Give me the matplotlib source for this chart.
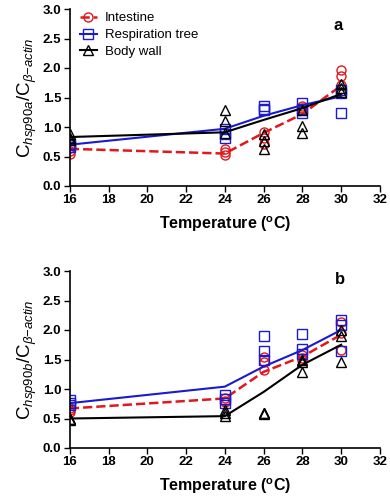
import matplotlib
matplotlib.use("Agg")
import matplotlib.pyplot as plt
import numpy as np

plt.rcParams['font.family'] = ['Liberation Sans', 'DejaVu Sans']
plt.rcParams['mathtext.fontset'] = 'custom'
plt.rcParams['mathtext.rm'] = 'Liberation Sans'
plt.rcParams['mathtext.it'] = 'Liberation Sans:italic'
plt.rcParams['mathtext.bf'] = 'Liberation Sans:bold'

temps = [16, 24, 26, 28, 30]
tissues = ["Intestine", "Respiration tree", "Body wall"]

# panel a: hsp90a means
a_intestine = [0.63, 0.55, 0.90, 1.22, 1.70]
a_resp = [0.70, 0.97, 1.19, 1.37, 1.52]
a_body = [0.83, 0.91, 1.12, 1.32, 1.56]

# panel a: replicates (3 per temperature)
a_intestine_pts = [[0.60, 0.65, 0.55], [0.63, 0.58, 0.53], [0.91, 0.82, 0.72],
                   [1.28, 1.35, 1.32], [1.97, 1.87, 1.72]]
a_resp_pts = [[0.70, 0.66, 0.72], [0.97, 0.82, 0.88], [1.35, 1.29, 1.30],
              [1.40, 1.23, 1.30], [1.62, 1.57, 1.23]]
a_body_pts = [[0.88, 0.82, 0.78], [1.28, 1.11, 0.90], [0.88, 0.77, 0.63],
              [1.02, 0.89, 1.28], [1.73, 1.66, 1.60]]

# panel b: hsp90b means
b_intestine = [0.67, 0.84, 1.29, 1.55, 1.92]
b_resp = [0.76, 1.04, 1.38, 1.66, 2.00]
b_body = [0.50, 0.54, 0.95, 1.41, 1.75]

b_intestine_pts = [[0.68, 0.61, 0.65], [0.84, 0.78, 0.80], [1.55, 1.46, 1.32],
                   [1.58, 1.52, 1.50], [2.14, 1.95, 1.66]]
b_resp_pts = [[0.81, 0.73, 0.76], [0.90, 0.76, 0.83], [1.90, 1.65, 1.49],
              [1.93, 1.67, 1.60], [2.17, 2.08, 1.65]]
b_body_pts = [[0.47, 0.50, 0.50], [0.64, 0.55, 0.60], [0.59, 0.60, 0.58],
              [1.50, 1.29, 1.45], [2.00, 1.89, 1.46]]

STYLES = {
    "Intestine": dict(color="#e0181c", marker="o", ls="--", lw=1.8),
    "Respiration tree": dict(color="#1a1ad0", marker="s", ls="-", lw=1.5),
    "Body wall": dict(color="black", marker="^", ls="-", lw=1.5),
}


def draw_panel(ax, means, pts, ylabel, tag, tag_pos, legend=False):
    for name, m, p in zip(tissues, means, pts):
        st = STYLES[name]
        xs = np.repeat(temps, 3)
        ys = np.concatenate(p)
        ax.plot(xs, ys, ls="none", marker=st["marker"], mfc="none",
                mec=st["color"], ms=6.5, mew=1.0)
        ax.plot(temps, m, color=st["color"], ls=st["ls"], lw=st["lw"])
        # legend proxy
        ax.plot([], [], color=st["color"], ls=st["ls"], lw=st["lw"],
                marker=st["marker"], mfc="none", mec=st["color"], ms=6.5,
                label=name)
    ax.set_xlim(16, 32)
    ax.set_ylim(0, 3.0)
    ax.set_xticks(np.arange(16, 33, 2))
    ax.set_yticks(np.arange(0, 3.01, 0.5))
    ax.set_yticklabels([f"{v:.1f}" for v in np.arange(0, 3.01, 0.5)])
    for lab in ax.get_xticklabels() + ax.get_yticklabels():
        lab.set_fontweight("bold")
        lab.set_fontsize(9.5)
    ax.spines["top"].set_visible(False)
    ax.spines["right"].set_visible(False)
    ax.spines["left"].set_linewidth(1.2)
    ax.spines["bottom"].set_linewidth(1.2)
    ax.tick_params(direction="out", length=4, width=1.0, pad=2)
    ax.set_xlabel(r"Temperature ($\mathbf{^o}$C)", fontsize=11.5,
                  fontweight="bold", labelpad=6)
    ax.set_ylabel(ylabel, fontsize=13.5, labelpad=3)
    ax.text(tag_pos[0], tag_pos[1], tag, transform=ax.transAxes, fontsize=12,
            fontweight="bold", ha="center", va="center")
    if legend:
        ax.legend(loc="upper left", frameon=False, fontsize=9.5,
                  handlelength=1.3, handletextpad=0.6, labelspacing=0.35,
                  borderaxespad=0.1, bbox_to_anchor=(0.01, 1.02))


fig = plt.figure(figsize=(3.9, 5.0), dpi=100)
ax1 = fig.add_axes([0.179, 0.628, 0.795, 0.354])
ax2 = fig.add_axes([0.179, 0.104, 0.795, 0.354])

draw_panel(ax1, [a_intestine, a_resp, a_body],
           [a_intestine_pts, a_resp_pts, a_body_pts],
           r"C$_{\mathit{hsp90a}}$/C$_{\mathit{\beta}\mathit{-actin}}$", "a",
           (0.865, 0.905), legend=True)
draw_panel(ax2, [b_intestine, b_resp, b_body],
           [b_intestine_pts, b_resp_pts, b_body_pts],
           r"C$_{\mathit{hsp90b}}$/C$_{\mathit{\beta}\mathit{-actin}}$", "b",
           (0.87, 0.95))

fig.savefig("out.png", dpi=100)
